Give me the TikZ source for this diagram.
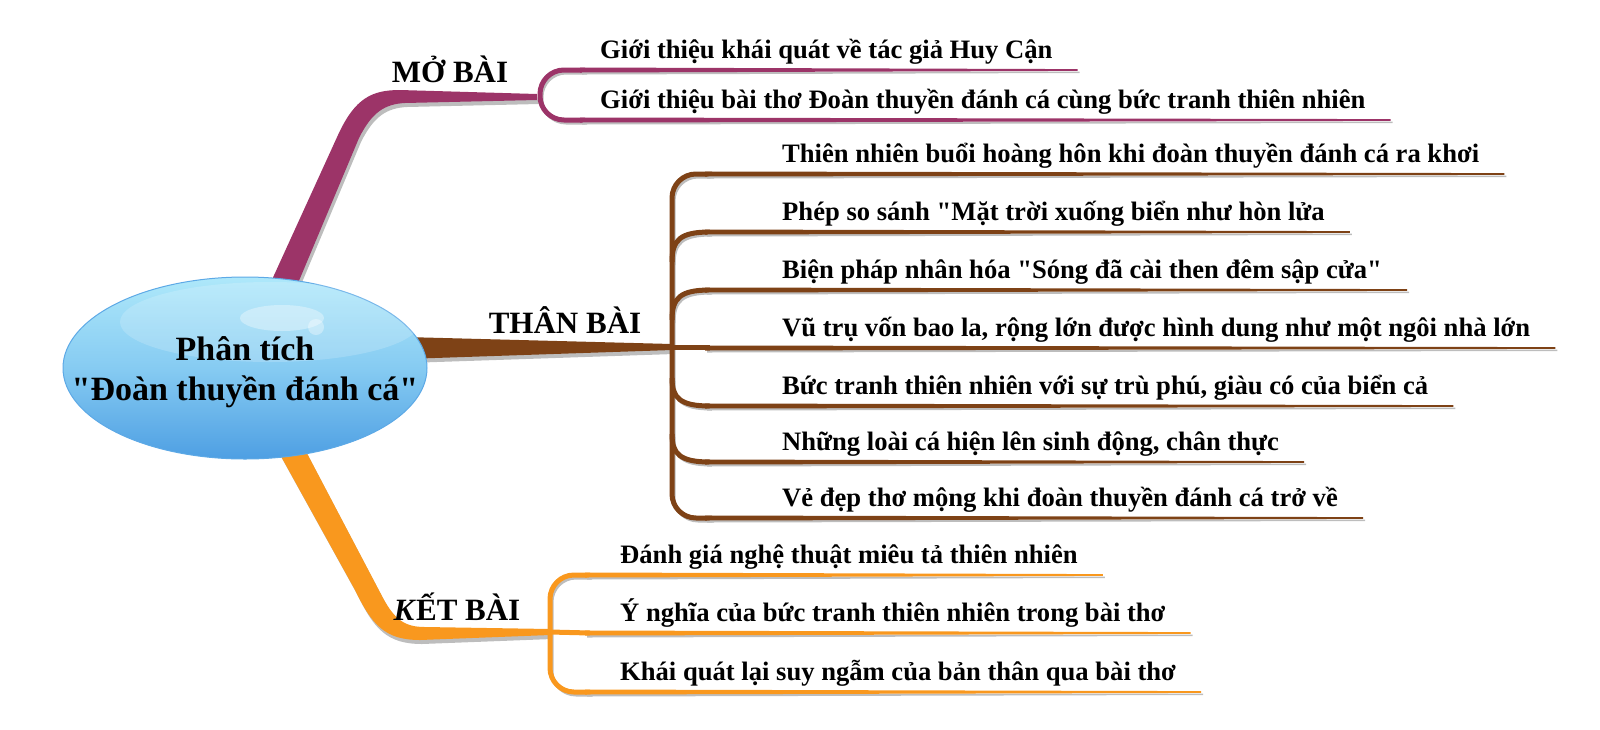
\documentclass[tikz,border=0pt]{standalone}
\usepackage{fontspec}
\setmainfont{Liberation Serif}[Ligatures=TeXOff]
\usetikzlibrary{shapes.geometric,calc}
\definecolor{mopurple}{HTML}{9C3468}
\definecolor{thbrown}{HTML}{7E4216}
\definecolor{ktorange}{HTML}{F9981E}
\definecolor{shadowgray}{HTML}{BDBDBD}
\definecolor{ctop}{HTML}{AEE8FA}
\definecolor{cmid}{HTML}{86CBF2}
\definecolor{cbot}{HTML}{4E9FE3}
\definecolor{cedge}{HTML}{5DA9E6}
% tapered underline: node, colour, start x, line y
\newcommand\leafline[4]{%
  \fill[shadowgray] (#3+2,#4+1.5) -- ($(#1.base east)+(27,13.6)$) -- ($(#1.base east)+(27,15)$) -- (#3+2,#4+4.5) -- cycle;
  \fill[#2] (#3,#4-2.5) -- ($(#1.base east)+(25,11.1)$) -- ($(#1.base east)+(25,12.9)$) -- (#3,#4+2.5) -- cycle;}
\begin{document}
\begin{tikzpicture}[x=1pt,y=-1pt,
  leaf/.style={font=\bfseries\fontsize{26.6}{30}\selectfont, anchor=base west, inner sep=0pt},
  branchlabel/.style={font=\bfseries\fontsize{31}{34}\selectfont, anchor=base, inner sep=0pt},
  subloop/.style={line width=5pt, rounded corners=24pt},
  subshadow/.style={line width=3pt, rounded corners=24pt, shadowgray},
  forkline/.style={line width=5pt},
]
\useasboundingbox (0,0) rectangle (1600,729);

% junction coordinates
\coordinate (mbJ) at (537,97);
\coordinate (tbJ) at (672,347);
\coordinate (kbJ) at (550,632);

% ---------- leaf texts ----------
\node[leaf] (m1) at (600,58) {Giới thiệu khái quát về tác giả Huy Cận};
\node[leaf] (m2) at (600,108) {Giới thiệu bài thơ Đoàn thuyền đánh cá cùng bức tranh thiên nhiên};

\node[leaf] (b1) at (782,162) {Thiên nhiên buổi hoàng hôn khi đoàn thuyền đánh cá ra khơi};
\node[leaf] (b2) at (782,220) {Phép so sánh "Mặt trời xuống biển như hòn lửa};
\node[leaf] (b3) at (782,278) {Biện pháp nhân hóa "Sóng đã cài then đêm sập cửa"};
\node[leaf] (b4) at (782,336) {Vũ trụ vốn bao la, rộng lớn được hình dung như một ngôi nhà lớn};
\node[leaf] (b5) at (782,394) {Bức tranh thiên nhiên với sự trù phú, giàu có của biển cả};
\node[leaf] (b6) at (782,450) {Những loài cá hiện lên sinh động, chân thực};
\node[leaf] (b7) at (782,506) {Vẻ đẹp thơ mộng khi đoàn thuyền đánh cá trở về};

\node[leaf] (k1) at (620,563) {Đánh giá nghệ thuật miêu tả thiên nhiên};
\node[leaf] (k2) at (620,621) {Ý nghĩa của bức tranh thiên nhiên trong bài thơ};
\node[leaf] (k3) at (620,680) {Khái quát lại suy ngẫm của bản thân qua bài thơ};

% ---------- main branches: shadows ----------
\begin{scope}[shift={(2,4)}]
\fill[shadowgray] (265,295) -- (338,135) .. controls (355,98) and (372,90) .. (400,90) -- (mbJ) -- (537,100) -- (405,103) .. controls (385,104) and (372,112) .. (359,138) -- (293,295) -- cycle;
\fill[shadowgray] (405,337) -- (tbJ) -- (672,350) -- (405,359) -- cycle;
\fill[shadowgray] (272,440) -- (355,590) .. controls (372,625) and (385,640) .. (420,640) -- (550,635) -- (kbJ) -- (550,629) -- (425,627) .. controls (405,627) and (395,620) .. (383,598) -- (300,440) -- cycle;
\end{scope}

% ---------- sub-branch loops: shadows ----------
\begin{scope}[shift={(2,3)}]
\draw[subshadow] (585,70) -- (540,70) -- (540,120) -- (585,120);
\draw[subshadow] (712,174) -- (672,174) -- (672,518) -- (712,518);
\draw[subshadow] (672,262) .. controls (672,240) and (680,232) .. (710,232);
\draw[subshadow] (672,320) .. controls (672,298) and (680,290) .. (710,290);
\draw[subshadow] (672,378) .. controls (672,398) and (680,406) .. (710,406);
\draw[subshadow] (672,434) .. controls (672,454) and (680,462) .. (710,462);
\draw[subshadow] (590,575) -- (550,575) -- (550,692) -- (590,692);
\end{scope}

% ---------- main branches ----------
\fill[mopurple] (265,295) -- (338,135) .. controls (355,98) and (372,90) .. (400,90) -- (537,94) -- (mbJ) -- (537,100) -- (405,103) .. controls (385,104) and (372,112) .. (359,138) -- (293,295) -- cycle;
\fill[thbrown] (405,337) -- (672,344) -- (tbJ) -- (672,350) -- (405,359) -- cycle;
\fill[ktorange] (272,440) -- (355,590) .. controls (372,625) and (385,640) .. (420,640) -- (550,635) -- (kbJ) -- (550,629) -- (425,627) .. controls (405,627) and (395,620) .. (383,598) -- (300,440) -- cycle;

% ---------- sub-branch loops ----------
\draw[subloop, mopurple] (585,70) -- (540,70) -- (540,120) -- (585,120);
\draw[subloop, thbrown] (712,174) -- (672,174) -- (672,518) -- (712,518);
\draw[forkline, thbrown] (672,262) .. controls (672,240) and (680,232) .. (710,232);
\draw[forkline, thbrown] (672,320) .. controls (672,298) and (680,290) .. (710,290);
\draw[forkline, thbrown] (672,378) .. controls (672,398) and (680,406) .. (710,406);
\draw[forkline, thbrown] (672,434) .. controls (672,454) and (680,462) .. (710,462);
\draw[forkline, thbrown] (tbJ) -- (710,347);
\draw[subloop, ktorange] (590,575) -- (550,575) -- (550,692) -- (590,692);
\draw[forkline, ktorange] (kbJ) -- (590,633);

% ---------- leaf underlines ----------
\leafline{m1}{mopurple}{580}{70}
\leafline{m2}{mopurple}{580}{120}
\leafline{b1}{thbrown}{705}{174}
\leafline{b2}{thbrown}{705}{232}
\leafline{b3}{thbrown}{705}{290}
\leafline{b4}{thbrown}{705}{348}
\leafline{b5}{thbrown}{705}{406}
\leafline{b6}{thbrown}{705}{462}
\leafline{b7}{thbrown}{705}{518}
\leafline{k1}{ktorange}{585}{575}
\leafline{k2}{ktorange}{585}{633}
\leafline{k3}{ktorange}{585}{692}

% ---------- central topic ----------
\node[ellipse, minimum width=364pt, minimum height=182pt, inner sep=0pt,
      top color=ctop, bottom color=cbot, middle color=cmid,
      draw=cedge, line width=1pt] (center) at (245,368) {};
\fill[white, opacity=0.18] (270,322) ellipse [x radius=150, y radius=40];
\fill[white, opacity=0.35] (282,318) ellipse [x radius=42, y radius=13];
\fill[white, opacity=0.35] (316,327) circle [radius=8];
\node[font=\bfseries\fontsize{34}{40}\selectfont, align=center, inner sep=0pt]
      (centertext) at (245,372) {Phân tích\\"Đoàn thuyền đánh cá"};

% ---------- branch labels ----------
\node[branchlabel] (mb) at (450,82) {MỞ BÀI};
\node[branchlabel] (tb) at (565,333) {THÂN BÀI};
\node[branchlabel] (kb) at (457,620) {\textit{K}ẾT BÀI};
\end{tikzpicture}
\end{document}
